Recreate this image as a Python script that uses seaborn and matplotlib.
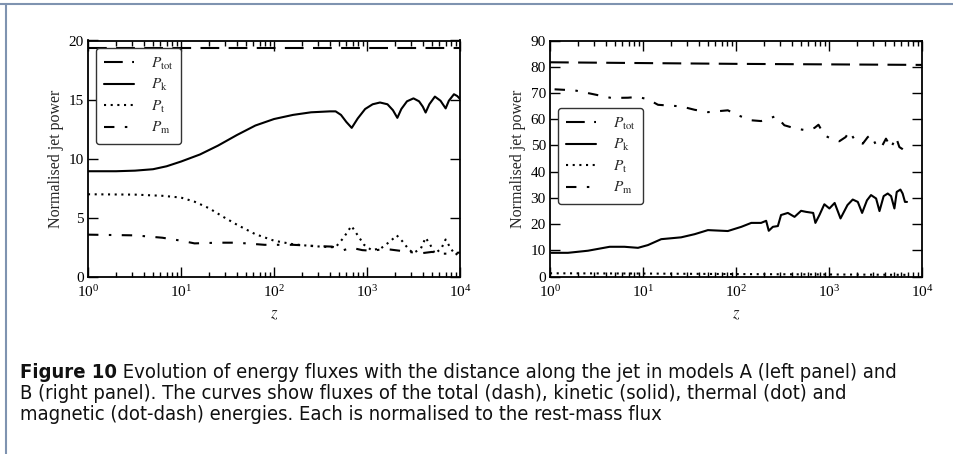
import matplotlib
matplotlib.use("Agg")
import matplotlib.pyplot as plt
from matplotlib.lines import Line2D
from matplotlib.ticker import LogLocator, MultipleLocator, NullFormatter, LogFormatterSciNotation
import seaborn as sns

# ---------------- model A (left panel) ----------------
a_tot_z = [1, 10, 100, 1000, 10000]
a_tot = [19.4, 19.4, 19.4, 19.4, 19.4]

a_k_z = [1, 2, 3.2, 5, 7, 10, 16, 25, 40, 63, 100, 160, 250, 400, 460, 525, 600,
         685, 795, 955, 1150, 1380, 1660, 1900, 2120, 2340, 2690, 3160, 3630, 3980,
         4270, 4680, 5370, 6170, 7010, 7590, 8610, 9330, 10000]
a_k = [8.93, 8.93, 8.98, 9.1, 9.35, 9.75, 10.35, 11.1, 12.0, 12.8, 13.35, 13.7, 13.92,
       14.0, 14.0, 13.7, 13.1, 12.6, 13.4, 14.2, 14.6, 14.75, 14.6, 14.1, 13.45, 14.2,
       14.85, 15.1, 14.85, 14.4, 13.9, 14.6, 15.25, 14.9, 14.25, 14.9, 15.45, 15.3, 15.05]

a_t_z = [1, 3.2, 6.3, 10, 14, 20, 28, 40, 63, 100, 160, 250, 400, 460, 560, 680, 795,
         930, 1120, 1410, 1780, 2090, 2400, 2820, 3160, 3800, 4270, 4790, 5370, 6310,
         7000, 7940, 8910, 10000]
a_t = [6.98, 6.95, 6.85, 6.7, 6.35, 5.8, 5.1, 4.4, 3.6, 3.05, 2.75, 2.6, 2.5, 2.5, 3.3,
       4.3, 3.5, 2.7, 2.25, 2.4, 3.0, 3.5, 3.0, 2.3, 2.0, 2.4, 3.3, 2.7, 1.95, 2.4, 3.15,
       2.4, 1.85, 2.1]

a_m_z = [1, 3.2, 6.3, 10, 14, 25, 40, 79, 160, 320, 420, 560, 680, 890, 1120, 1580,
         2240, 3160, 3980, 5010, 6310, 7940, 10000]
a_m = [3.56, 3.5, 3.3, 3.05, 2.82, 2.88, 2.88, 2.7, 2.7, 2.58, 2.55, 2.25, 2.45, 2.25,
       2.2, 2.35, 2.2, 2.05, 2.0, 2.1, 1.95, 1.95, 2.05]

# ---------------- model B (right panel) ----------------
b_tot_z = [1, 10, 100, 1000, 10000]
b_tot = [81.7, 81.4, 81.1, 80.9, 80.7]

b_k_z = [1.03, 1.56, 2.56, 4.38, 6.31, 8.83, 11.3, 15.7, 25.7, 35.9, 49.9, 81.7, 114,
         146, 186, 211, 225, 249, 282, 305, 361, 426, 501, 568, 676, 714, 789, 891,
         1010, 1150, 1330, 1580, 1800, 2040, 2270, 2560, 2830, 3210, 3490, 3870, 4280,
         4650, 5050, 5350, 5860, 6190, 6560, 6900]
b_k = [9.1, 9.1, 9.9, 11.4, 11.4, 11.0, 12.05, 14.3, 15.0, 16.2, 17.75, 17.4, 19.0,
       20.5, 20.5, 21.3, 17.5, 19.0, 19.3, 23.5, 24.3, 22.8, 25.1, 24.7, 24.3, 20.5,
       23.5, 27.6, 26.0, 28.1, 22.2, 27.3, 29.4, 28.5, 24.3, 29.1, 31.1, 29.8, 25.0,
       30.7, 31.7, 30.7, 26.0, 32.3, 33.2, 31.7, 28.5, 28.5]

b_t_z = [1, 10, 100, 1000, 6900]
b_t = [1.3, 1.2, 1.0, 0.85, 0.7]

b_m_z = [1.12, 1.84, 2.78, 4.57, 6.89, 8.83, 11.3, 14.5, 25.7, 35.9, 49.9, 81.7, 105,
         146, 186, 219, 269, 331, 443, 568, 698, 771, 891, 1050, 1290, 1510, 1660,
         1950, 2310, 2610, 2830, 3210, 3630, 4100, 4650, 5250, 5710, 6190, 6900]
b_m = [71.4, 71.0, 69.7, 68.1, 68.2, 68.5, 67.6, 65.5, 64.9, 63.6, 62.7, 63.4, 61.5,
       59.6, 59.3, 60.1, 61.2, 57.7, 56.4, 55.8, 56.7, 57.9, 53.9, 52.6, 51.6, 53.2,
       55.4, 51.3, 50.7, 53.2, 54.1, 50.1, 49.1, 52.6, 49.1, 53.2, 49.4, 48.6, 47.3]

labels = [r"$P_{\rm tot}$", r"$P_{\rm k}$", r"$P_{\rm t}$", r"$P_{\rm m}$"]
styles = [(0, (9, 4.5)), "-", (0, (1, 2.2)), (0, (5, 5, 1.2, 5))]

caption_lines = [
    ("Figure 10", " Evolution of energy fluxes with the distance along the jet in models A (left panel) and"),
    ("", "B (right panel). The curves show fluxes of the total (dash), kinetic (solid), thermal (dot) and"),
    ("", "magnetic (dot-dash) energies. Each is normalised to the rest-mass flux"),
]

sns.set_style("ticks")
plt.rcParams["font.family"] = ["Liberation Serif", "DejaVu Serif"]
plt.rcParams["mathtext.fontset"] = "stix"
plt.rcParams["font.size"] = 10.5

W, H = 954, 454
fig = plt.figure(figsize=(W / 100, H / 100), dpi=100)
fig.patch.set_facecolor("white")


def px_axes(x0, x1, y0, y1):
    return fig.add_axes([x0 / W, 1 - y1 / H, (x1 - x0) / W, (y1 - y0) / H])


axA = px_axes(88, 460, 40.5, 276.7)
axB = px_axes(550, 922, 40.5, 276.7)

panels = [
    (axA, [(a_tot_z, a_tot), (a_k_z, a_k), (a_t_z, a_t), (a_m_z, a_m)], 20, 5, (0.022, 0.968)),
    (axB, [(b_tot_z, b_tot), (b_k_z, b_k), (b_t_z, b_t), (b_m_z, b_m)], 90, 10, (0.022, 0.714)),
]

for ax, series, ymax, ystep, anchor in panels:
    for (z, v), ls, lab in zip(series, styles, labels):
        sns.lineplot(x=z, y=v, ax=ax, color="black", linewidth=1.5, linestyle=ls,
                     label=lab, legend=False)
    ax.set_xscale("log")
    ax.set_xlim(1, 1e4)
    ax.set_ylim(0, ymax)
    ax.yaxis.set_major_locator(MultipleLocator(ystep))
    ax.xaxis.set_major_locator(LogLocator(base=10, numticks=10))
    ax.xaxis.set_minor_locator(LogLocator(base=10, subs=range(2, 10), numticks=20))
    ax.xaxis.set_major_formatter(LogFormatterSciNotation())
    ax.xaxis.set_minor_formatter(NullFormatter())
    ax.tick_params(which="both", direction="in", top=True, right=True, colors="black",
                   labelsize=11, width=1.0)
    ax.tick_params(which="major", length=7, pad=3)
    ax.tick_params(axis="x", which="major", pad=5)
    ax.tick_params(which="minor", length=3.5)
    for sp in ax.spines.values():
        sp.set_linewidth(1.3)
        sp.set_color("black")
    ax.set_xlabel(r"$z$", fontsize=12, labelpad=5)
    ax.set_ylabel("Normalised jet power", fontsize=11.5, labelpad=3)
    leg = ax.legend(loc="upper left", bbox_to_anchor=anchor, fontsize=11, frameon=True,
                    fancybox=True, handlelength=2.0, handletextpad=1.1,
                    labelspacing=0.35, borderpad=0.5, borderaxespad=0.0)
    fr = leg.get_frame()
    fr.set_edgecolor("#333333")
    fr.set_linewidth(1.0)
    fr.set_alpha(1.0)

# page border lines
border = "#7f93b0"
fig.add_artist(Line2D([0, 1], [1 - 4 / H, 1 - 4 / H], transform=fig.transFigure, color=border, lw=1.5))
fig.add_artist(Line2D([6.5 / W, 6.5 / W], [0, 1 - 4 / H], transform=fig.transFigure, color=border, lw=1.5))

# caption, sized so the first line spans the text width
cap_font = ["DejaVu Sans"]
cap_stretch = "condensed"
ys = [372.5, 393.5, 414.5]
x_left, x_right = 20.5, 928.0
fig.canvas.draw()
renderer = fig.canvas.get_renderer()


def caption_line(size, bold, rest, yc):
    arts = []
    x = x_left
    if bold:
        t = fig.text(x / W, 1 - yc / H, bold, fontsize=size, fontweight="bold",
                     family=cap_font, fontstretch=cap_stretch, va="center", ha="left",
                     color="#111111")
        x = t.get_window_extent(renderer).x1
        arts.append(t)
    t = fig.text(x / W, 1 - yc / H, rest, fontsize=size, family=cap_font,
                 fontstretch=cap_stretch, va="center", ha="left", color="#111111")
    arts.append(t)
    return arts, t.get_window_extent(renderer).x1


probe, x_end = caption_line(12.0, *caption_lines[0], ys[0])
for a in probe:
    a.remove()
cap_size = min(12.0 * (x_right - x_left) / (x_end - x_left), 14.5)
for (bold, rest), yc in zip(caption_lines, ys):
    caption_line(cap_size, bold, rest, yc)

fig.savefig("out.png", dpi=100, facecolor="white")
